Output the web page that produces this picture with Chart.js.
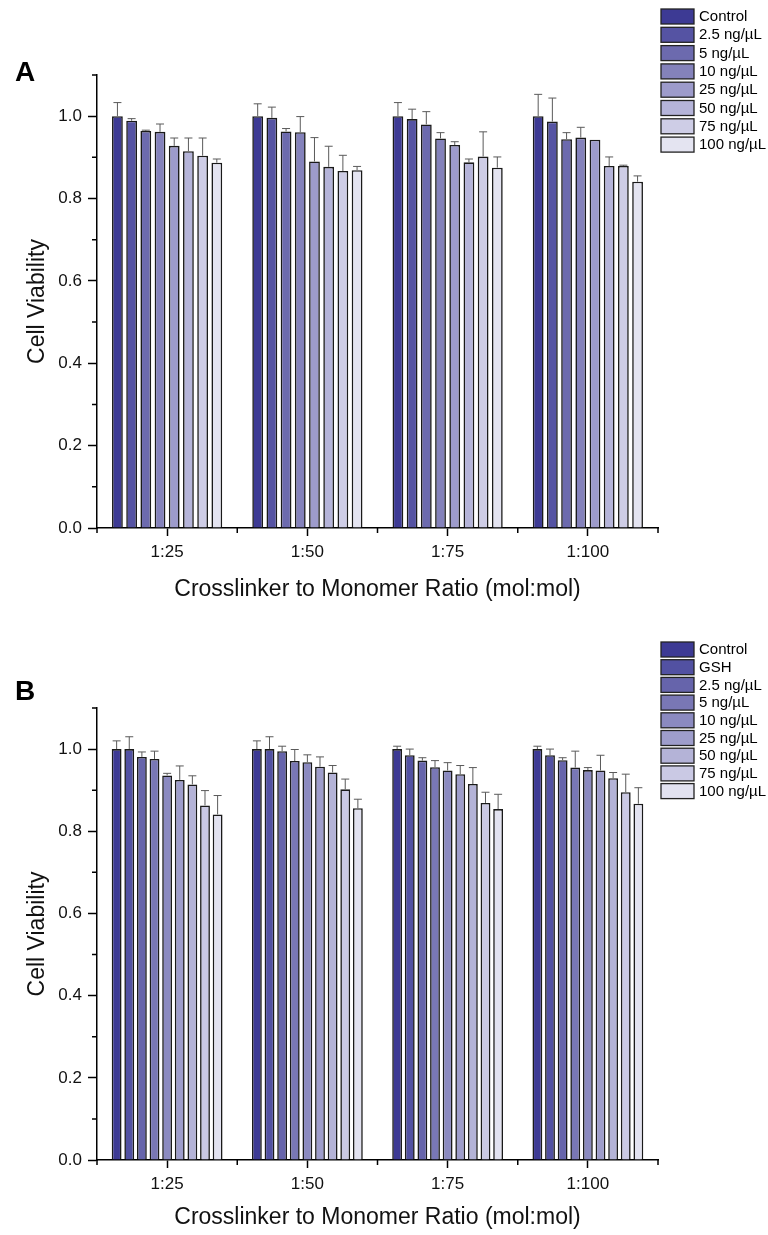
<!DOCTYPE html>
<html>
<head>
<meta charset="utf-8">
<script src="https://cdn.jsdelivr.net/npm/chart.js@4/dist/chart.umd.min.js"></script>
<style>
  body { margin: 0; background: #fff; }
  canvas { display: block; }
</style>
</head>
<body>
<canvas id="panel-a" width="768" height="620"></canvas>
<canvas id="panel-b" width="768" height="615"></canvas>
<script>
// ratios on the x axis
var ratios = ['1:25', '1:50', '1:75', '1:100'];

// panel A
var labelsA = ['Control', '2.5 ng/\u00b5L', '5 ng/\u00b5L', '10 ng/\u00b5L', '25 ng/\u00b5L', '50 ng/\u00b5L', '75 ng/\u00b5L', '100 ng/\u00b5L'];
var controlA = [1.000, 1.000, 1.000, 1.000];
var conc2_5A = [0.989, 0.996, 0.993, 0.987];
var conc5A   = [0.964, 0.963, 0.980, 0.944];
var conc10A  = [0.962, 0.961, 0.946, 0.948];
var conc25A  = [0.928, 0.890, 0.930, 0.943];
var conc50A  = [0.915, 0.877, 0.888, 0.879];
var conc75A  = [0.904, 0.867, 0.902, 0.879];
var conc100A = [0.887, 0.869, 0.875, 0.841];
var errA = [
    [0.033, 0.030, 0.033, 0.053],
    [0.005, 0.026, 0.024, 0.057],
    [0.002, 0.007, 0.031, 0.016],
    [0.019, 0.038, 0.014, 0.025],
    [0.019, 0.058, 0.008, 0.000],
    [0.032, 0.050, 0.008, 0.022],
    [0.043, 0.038, 0.060, 0.002],
    [0.009, 0.009, 0.026, 0.014]
];

// panel B
var labelsB = ['Control', 'GSH', '2.5 ng/\u00b5L', '5 ng/\u00b5L', '10 ng/\u00b5L', '25 ng/\u00b5L', '50 ng/\u00b5L', '75 ng/\u00b5L', '100 ng/\u00b5L'];
var controlB = [1.000, 1.000, 1.000, 1.000];
var gshB     = [1.000, 1.000, 0.985, 0.985];
var conc2_5B = [0.981, 0.995, 0.972, 0.973];
var conc5B   = [0.976, 0.971, 0.956, 0.955];
var conc10B  = [0.936, 0.968, 0.948, 0.949];
var conc25B  = [0.925, 0.957, 0.939, 0.948];
var conc50B  = [0.914, 0.943, 0.915, 0.929];
var conc75B  = [0.863, 0.902, 0.869, 0.895];
var conc100B = [0.841, 0.856, 0.854, 0.867];
var errB = [
    [0.020, 0.020, 0.007, 0.007],
    [0.030, 0.030, 0.015, 0.015],
    [0.012, 0.012, 0.007, 0.006],
    [0.019, 0.028, 0.016, 0.040],
    [0.005, 0.018, 0.019, 0.006],
    [0.034, 0.024, 0.021, 0.037],
    [0.021, 0.017, 0.040, 0.014],
    [0.036, 0.025, 0.026, 0.044],
    [0.046, 0.022, 0.036, 0.039]
];

var colorsA = ['#3d3a94', '#5553a3', '#6c6aae', '#8482bb', '#9d9bcb', '#b5b4d9', '#cecde6', '#e4e4f1'];
var colorsB = ['#3d3a94', '#5251a2', '#6664ab', '#7977b5', '#8b8ac0', '#9e9dcb', '#b4b3d7', '#cac9e4', '#e2e2f0'];

var fontFamily = "'Liberation Sans', Arial, sans-serif";

// error bars (upper only), minor ticks, panel letter and legend
var extras = {
    id: 'extras',
    afterDatasetsDraw: function (chart) {
        var ctx = chart.ctx;
        var yScale = chart.scales.y;
        var errs = chart.options.plugins.extras.errors;
        ctx.save();
        ctx.strokeStyle = '#5a5a5a';
        ctx.lineWidth = 1;
        chart.data.datasets.forEach(function (ds, i) {
            chart.getDatasetMeta(i).data.forEach(function (bar, j) {
                var e = errs[i][j];
                if (!e) return;
                var yTop = yScale.getPixelForValue(ds.data[j] + e);
                ctx.beginPath();
                ctx.moveTo(bar.x, bar.y);
                ctx.lineTo(bar.x, yTop);
                ctx.moveTo(bar.x - 4, yTop);
                ctx.lineTo(bar.x + 4, yTop);
                ctx.stroke();
            });
        });
        ctx.restore();
    },
    afterDraw: function (chart) {
        var ctx = chart.ctx;
        var o = chart.options.plugins.extras;
        var x = chart.scales.x, y = chart.scales.y;
        ctx.save();
        ctx.strokeStyle = '#000';
        ctx.lineWidth = 1.5;
        ctx.beginPath();
        for (var v = 0.1; v < 1.15; v += 0.2) {
            var py = y.getPixelForValue(v);
            ctx.moveTo(y.right - 5, py);
            ctx.lineTo(y.right, py);
        }
        var n = chart.data.labels.length;
        for (var k = 0; k <= n; k++) {
            var px = x.left + k * (x.right - x.left) / n;
            ctx.moveTo(px, x.top);
            ctx.lineTo(px, x.top + 5);
        }
        ctx.stroke();

        ctx.fillStyle = '#000';
        ctx.font = 'bold 28px ' + fontFamily;
        ctx.textBaseline = 'middle';
        ctx.fillText(o.letter, 15, o.letterY);

        ctx.font = '15px ' + fontFamily;
        chart.data.datasets.forEach(function (ds, i) {
            var top = o.legendTop + i * o.legendStep;
            ctx.fillStyle = ds.backgroundColor;
            ctx.fillRect(661, top, 33, 15);
            ctx.strokeStyle = '#222';
            ctx.lineWidth = 1.3;
            ctx.strokeRect(661, top, 33, 15);
            ctx.fillStyle = '#000';
            ctx.fillText(ds.label, 699, top + 8);
        });
        ctx.restore();
    }
};

function makeChart(id, names, series, errors, colors, box) {
    var datasets = names.map(function (name, i) {
        return {
            label: name,
            data: series[i],
            backgroundColor: colors[i],
            borderColor: '#1a1a1a',
            borderWidth: 1.6,
            barPercentage: box.barPct,
            categoryPercentage: 0.81
        };
    });
    return new Chart(document.getElementById(id).getContext('2d'), {
        type: 'bar',
        data: { labels: ratios, datasets: datasets },
        plugins: [extras],
        options: {
            responsive: false,
            animation: false,
            layout: { padding: { top: box.top, right: 110, left: 0, bottom: 0 } },
            plugins: {
                legend: { display: false },
                tooltip: { enabled: false },
                extras: { errors: errors, letter: box.letter, letterY: box.letterY, legendTop: box.legendTop, legendStep: box.legendStep }
            },
            scales: {
                x: {
                    afterFit: function (s) { s.height = box.xHeight; },
                    grid: { offset: false, drawOnChartArea: false, tickLength: 8, color: '#000', tickWidth: 1.5 },
                    border: { color: '#000', width: 1.5 },
                    ticks: { padding: 6, color: '#111', font: { family: fontFamily, size: 17 } },
                    title: { display: true, text: 'Crosslinker to Monomer Ratio (mol:mol)', color: '#111',
                        font: { family: fontFamily, size: 23 }, padding: { top: 0, bottom: box.titlePad } }
                },
                y: {
                    min: 0,
                    max: 1.1,
                    afterFit: function (s) { s.width = 97; },
                    grid: { drawOnChartArea: false, tickLength: 9, color: '#000', tickWidth: 1.5 },
                    border: { color: '#000', width: 1.5 },
                    ticks: { stepSize: 0.2, includeBounds: false, padding: 6, color: '#111',
                        font: { family: fontFamily, size: 17 },
                        callback: function (v) { return v.toFixed(1); } },
                    title: { display: true, text: 'Cell Viability', color: '#111',
                        font: { family: fontFamily, size: 23 }, padding: { top: 24, bottom: 0 } }
                }
            }
        }
    });
}

var chartA = makeChart('panel-a', labelsA,
    [controlA, conc2_5A, conc5A, conc10A, conc25A, conc50A, conc75A, conc100A],
    errA, colorsA,
    { top: 75, xHeight: 92, titlePad: 17, barPct: 0.76, letter: 'A', letterY: 73, legendTop: 9, legendStep: 18.3 });

var chartB = makeChart('panel-b', labelsB,
    [controlB, gshB, conc2_5B, conc5B, conc10B, conc25B, conc50B, conc75B, conc100B],
    errB, colorsB,
    { top: 88, xHeight: 75, titlePad: 4, barPct: 0.78, letter: 'B', letterY: 72, legendTop: 22, legendStep: 17.7 });
</script>
</body>
</html>
